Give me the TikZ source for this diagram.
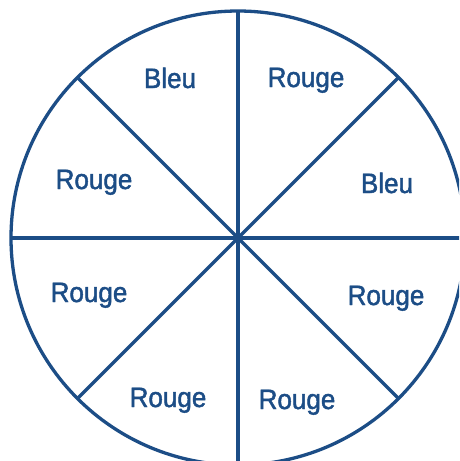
\documentclass[tikz,border=0pt]{standalone}
\usepackage{fontspec}
\setmainfont{Liberation Sans}[FakeBold=1.6,FakeStretch=0.93]
\definecolor{wheelblue}{RGB}{28,77,134}
\begin{document}
\begin{tikzpicture}[x=1pt,y=-1pt,
  lab/.style={anchor=base,font=\fontsize{28}{32}\selectfont,text=wheelblue,inner sep=0pt},
  rim/.style={draw=wheelblue,line width=3.3pt}]
\useasboundingbox (0,0) rectangle (459,461);
\clip (0,0) rectangle (459,461);
\coordinate (c) at (238,238);
\draw[rim] (c) circle[radius=227];
\foreach \a in {0,45,...,315}{
  \draw[rim] (c) -- ++(\a:227);
}
\node[lab] (t1) at (170,88) {Bleu};
\node[lab] (t2) at (306,87) {Rouge};
\node[lab] (t3) at (94,189) {Rouge};
\node[lab] (t4) at (387,193) {Bleu};
\node[lab] (t5) at (89,302) {Rouge};
\node[lab] (t6) at (386,305) {Rouge};
\node[lab] (t7) at (168,407) {Rouge};
\node[lab] (t8) at (297,409) {Rouge};
\end{tikzpicture}
\end{document}
